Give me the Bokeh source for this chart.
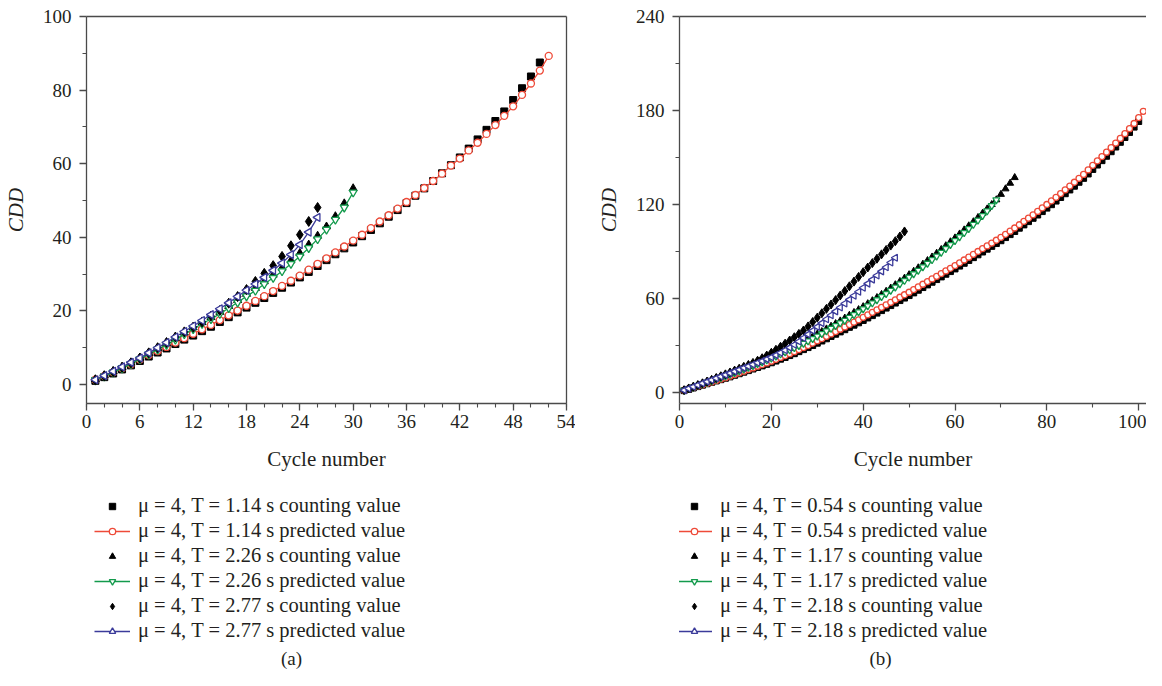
import numpy as np
from bokeh.plotting import figure
from bokeh.models import Legend, LegendItem, LinearAxis, FixedTicker, Range1d, Label
from bokeh.layouts import row, column
from bokeh.embed import file_html
from bokeh.resources import INLINE

# ---------------- panel (a) data ----------------
a_count_114 = [1.0, 2.0, 3.0, 4.1, 5.2, 6.4, 7.6, 8.7, 9.8, 11.0, 12.2, 13.3, 14.5, 15.7, 17.0, 18.3,
               19.6, 20.9, 22.2, 23.5, 24.9, 26.3, 27.7, 29.1, 30.6, 32.2, 33.8, 35.4, 37.0, 38.6,
               40.3, 42.0, 43.8, 45.6, 47.4, 49.3, 51.3, 53.3, 55.3, 57.4, 59.6, 61.7, 64.1, 66.6,
               69.2, 71.6, 74.2, 77.3, 80.5, 83.7, 87.5]
a_pred_114 = [1.3, 2.3, 3.3, 4.4, 5.5, 6.8, 8.0, 9.1, 10.2, 11.4, 12.6, 13.8, 15.0, 16.2, 17.5, 18.8,
              20.1, 21.4, 22.7, 24.0, 25.4, 26.8, 28.2, 29.6, 31.2, 32.8, 34.3, 35.9, 37.5, 39.1,
              40.7, 42.5, 44.3, 46.0, 47.8, 49.6, 51.5, 53.4, 55.3, 57.3, 59.5, 61.4, 63.6, 65.7,
              68.1, 70.5, 73.0, 75.6, 78.7, 81.8, 85.3, 89.3]
a_count_226 = [1.4, 2.5, 3.6, 4.7, 5.9, 7.2, 8.5, 9.9, 11.2, 12.6, 14.1, 15.5, 16.9, 18.3, 19.7, 21.3,
               22.9, 24.6, 26.2, 28.0, 29.8, 31.7, 33.7, 35.7, 38.0, 40.4, 42.9, 45.7, 49.2, 53.3]
a_pred_226 = [1.2, 2.2, 3.3, 4.4, 5.6, 6.9, 8.2, 9.5, 10.8, 12.2, 13.7, 15.1, 16.5, 17.8, 19.2, 20.8,
              22.3, 24.0, 25.5, 27.3, 29.0, 30.8, 32.8, 34.8, 37.1, 39.5, 42.1, 44.8, 48.1, 52.2]
a_count_277 = [1.2, 2.3, 3.5, 4.7, 5.9, 7.2, 8.6, 10.0, 11.4, 12.9, 14.3, 15.6, 17.0, 18.6, 20.1, 22.1,
               23.9, 25.8, 28.0, 30.2, 32.3, 34.8, 37.7, 40.7, 44.3, 48.1]
a_pred_277 = [1.3, 2.4, 3.6, 4.8, 6.0, 7.2, 8.6, 10.0, 11.4, 12.9, 14.4, 15.9, 17.4, 19.0, 20.6, 22.2,
              23.9, 25.6, 27.3, 29.1, 31.0, 33.0, 35.3, 38.0, 41.4, 45.4]
a_labels = ["μ = 4, T = 1.14 s counting value", "μ = 4, T = 1.14 s predicted value",
            "μ = 4, T = 2.26 s counting value", "μ = 4, T = 2.26 s predicted value",
            "μ = 4, T = 2.77 s counting value", "μ = 4, T = 2.77 s predicted value"]
a_xticks = [0, 6, 12, 18, 24, 30, 36, 42, 48, 54]
a_yticks = [0, 20, 40, 60, 80, 100]

# ---------------- panel (b) data ----------------
b_count_054 = [1.2, 2.0, 2.9, 3.8, 4.7, 5.6, 6.5, 7.4, 8.2, 9.1, 10.0, 11.0, 12.0, 13.0, 14.0, 15.0,
               16.0, 17.0, 18.0, 19.0, 20.1, 21.3, 22.4, 23.6, 24.8, 26.1, 27.4, 28.7, 30.0, 31.5,
               32.9, 34.3, 35.8, 37.2, 38.7, 40.1, 41.6, 43.0, 44.5, 46.0, 47.6, 49.1, 50.7, 52.3,
               53.9, 55.5, 57.1, 58.7, 60.3, 61.9, 63.6, 65.3, 67.0, 68.7, 70.4, 72.1, 73.8, 75.5,
               77.2, 78.9, 80.7, 82.5, 84.3, 86.1, 87.9, 89.7, 91.5, 93.3, 95.1, 96.9, 98.9, 100.8,
               102.8, 104.9, 107.0, 109.1, 111.2, 113.3, 115.5, 117.7, 119.9, 122.2, 124.5, 126.9,
               129.3, 131.7, 134.2, 136.7, 139.5, 142.4, 145.2, 148.0, 150.8, 153.7, 156.7, 159.7,
               162.8, 166.0, 169.4, 173.0]
b_pred_054 = [1.5, 2.3, 3.2, 4.1, 5.0, 5.9, 6.8, 7.7, 8.6, 9.5, 10.5, 11.5, 12.5, 13.6, 14.7, 15.7,
              16.8, 17.8, 18.9, 20.0, 21.2, 22.4, 23.6, 24.8, 26.1, 27.4, 28.7, 30.0, 31.5, 33.0,
              34.4, 35.9, 37.4, 38.9, 40.4, 41.9, 43.4, 44.9, 46.4, 48.0, 49.6, 51.2, 52.8, 54.4,
              56.0, 57.6, 59.2, 60.8, 62.4, 64.0, 65.7, 67.4, 69.1, 70.8, 72.5, 74.2, 75.9, 77.6,
              79.3, 81.0, 82.8, 84.6, 86.4, 88.2, 90.0, 91.8, 93.6, 95.4, 97.2, 99.0, 101.0, 103.0,
              105.0, 107.1, 109.2, 111.3, 113.4, 115.6, 117.8, 120.0, 122.3, 124.6, 127.0, 129.4,
              131.8, 134.2, 136.7, 139.2, 142.1, 145.0, 147.8, 150.6, 153.4, 156.3, 159.2, 162.2,
              165.2, 168.4, 171.7, 175.5, 179.5]
b_count_117 = [1.6, 2.6, 3.7, 4.7, 5.8, 6.8, 7.9, 8.9, 10.0, 11.0, 12.1, 13.2, 14.4, 15.5, 16.7, 17.9,
               19.1, 20.4, 21.6, 22.9, 24.2, 25.6, 26.9, 28.3, 29.7, 31.2, 32.7, 34.2, 35.7, 37.3,
               38.9, 40.6, 42.3, 44.0, 45.7, 47.5, 49.3, 51.1, 52.9, 54.8, 56.7, 58.6, 60.6, 62.6,
               64.6, 66.7, 68.8, 70.9, 73.0, 75.2, 77.4, 79.6, 81.9, 84.2, 86.5, 88.9, 91.3, 93.7,
               96.2, 98.7, 101.2, 103.8, 106.4, 109.0, 111.7, 114.4, 117.2, 120.0, 123.0, 126.5,
               130.0, 133.6, 137.2]
b_pred_117 = [1.5, 2.5, 3.5, 4.5, 5.5, 6.5, 7.5, 8.5, 9.5, 10.5, 11.6, 12.7, 13.8, 14.9, 16.0, 17.2,
              18.4, 19.6, 20.8, 22.0, 23.3, 24.6, 25.9, 27.2, 28.6, 30.0, 31.4, 32.9, 34.4, 36.0,
              37.6, 39.3, 41.0, 42.7, 44.4, 46.1, 47.9, 49.7, 51.5, 53.4, 55.3, 57.2, 59.2, 61.2,
              63.2, 65.2, 67.3, 69.4, 71.5, 73.6, 75.8, 78.0, 80.2, 82.5, 84.8, 87.1, 89.5, 91.9,
              94.4, 96.9, 99.4, 102.0, 104.6, 107.3, 110.0, 112.9, 115.9, 119.3, 123.0]
b_count_218 = [1.5, 2.6, 3.7, 4.8, 5.9, 7.0, 8.1, 9.3, 10.4, 11.6, 12.8, 14.0, 15.2, 16.4, 17.6, 18.9,
               20.3, 21.9, 23.6, 25.4, 27.3, 29.2, 31.2, 33.2, 35.3, 37.4, 39.6, 42.2, 45.0, 47.8,
               50.6, 53.4, 56.2, 59.0, 61.9, 64.8, 67.8, 70.8, 73.8, 76.8, 79.8, 82.6, 85.4, 88.2,
               91.0, 93.8, 96.6, 99.6, 102.8]
b_pred_218 = [1.5, 2.6, 3.7, 4.8, 5.9, 7.0, 8.0, 9.1, 10.2, 11.3, 12.4, 13.5, 14.6, 15.7, 16.8, 17.9,
              19.0, 20.1, 21.3, 22.5, 23.9, 25.4, 27.0, 28.7, 30.5, 32.6, 34.8, 37.1, 39.5, 41.9,
              44.3, 46.8, 49.3, 51.8, 54.3, 56.8, 59.3, 61.8, 64.3, 66.9, 69.5, 72.1, 74.7, 77.3,
              80.0, 83.0, 86.0]
b_labels = ["μ = 4, T = 0.54 s counting value", "μ = 4, T = 0.54 s predicted value",
            "μ = 4, T = 1.17 s counting value", "μ = 4, T = 1.17 s predicted value",
            "μ = 4, T = 2.18 s counting value", "μ = 4, T = 2.18 s predicted value"]
b_xticks = [0, 20, 40, 60, 80, 100]
b_yticks = [0, 60, 120, 180, 240]

RED = "#ee4a38"
GREEN = "#139a4c"
BLUE = "#3b3b9a"
AXIS = "#4a4a4a"
TXT = "#231f20"
FONT = "Liberation Serif"


def cyc(v):
    return list(range(1, len(v) + 1))


def frame_axis(p, loc):
    ax = LinearAxis(ticker=FixedTicker(ticks=[]), axis_line_color=AXIS, axis_line_width=1.3,
                    major_tick_line_color=None, minor_tick_line_color=None,
                    major_label_text_font_size="0px")
    p.add_layout(ax, loc)


def draw_series(p, series, ms):
    """Draw the six series; returns renderer groups in legend order."""
    (c1, p1, c2, p2, c3, p3) = series
    groups = []
    r = p.scatter(cyc(c1), c1, marker="square", size=ms, color="black")
    groups.append([r])
    l = p.line(cyc(p1), p1, line_color=RED, line_width=1.3)
    s = p.scatter(cyc(p1), p1, marker="circle", size=ms, line_color=RED, fill_color="white",
                  line_width=1.3)
    groups.append([l, s])
    r = p.scatter(cyc(c2), c2, marker="triangle", size=ms + 1, color="black")
    groups.append([r])
    l = p.line(cyc(p2), p2, line_color=GREEN, line_width=1.3)
    s = p.scatter(cyc(p2), p2, marker="inverted_triangle", size=ms + 1, line_color=GREEN,
                  fill_color="white", line_width=1.3)
    groups.append([l, s])
    r = p.scatter(cyc(c3), c3, marker="diamond", size=ms + 3, color="black")
    groups.append([r])
    l = p.line(cyc(p3), p3, line_color=BLUE, line_width=1.3)
    s = p.scatter(cyc(p3), p3, marker="triangle", angle=np.pi / 2, size=ms + 1, line_color=BLUE,
                  fill_color="white", line_width=1.3)
    groups.append([l, s])
    return groups


def panel(series, labels, x_end, y_start, y_end, xt, xminor, yt, yminor, caption, width,
          bl, br, ms, right_box, leg_x, cap_x):
    p = figure(width=width, height=478, x_range=Range1d(0, x_end), y_range=Range1d(y_start, y_end),
               output_backend="svg", toolbar_location=None, min_border_left=bl,
               min_border_right=br, min_border_top=16, min_border_bottom=75)
    p.grid.visible = False
    p.outline_line_color = None

    p.xaxis.ticker = FixedTicker(ticks=xt, minor_ticks=xminor)
    p.yaxis.ticker = FixedTicker(ticks=yt, minor_ticks=yminor)
    for ax in (p.xaxis[0], p.yaxis[0]):
        ax.axis_line_color = AXIS
        ax.axis_line_width = 1.3
        ax.major_tick_line_color = AXIS
        ax.major_tick_line_width = 1.3
        ax.minor_tick_line_color = AXIS
        ax.minor_tick_line_width = 1.1
        ax.major_tick_out = 7
        ax.major_tick_in = 0
        ax.minor_tick_out = 4
        ax.minor_tick_in = 0
        ax.major_label_text_font = FONT
        ax.major_label_text_font_size = "19px"
        ax.major_label_text_color = TXT
        ax.axis_label_text_font = FONT
        ax.axis_label_text_font_size = "21px"
        ax.axis_label_text_color = TXT
    p.xaxis.axis_label = "Cycle number"
    p.xaxis.axis_label_text_font_style = "normal"
    p.xaxis.major_label_standoff = 4
    p.xaxis.axis_label_standoff = 16
    p.yaxis.axis_label = "CDD"
    p.yaxis.axis_label_text_font_style = "italic"
    p.yaxis.major_label_standoff = 8
    p.yaxis.axis_label_standoff = 12

    frame_axis(p, "above")
    if right_box:
        frame_axis(p, "right")

    draw_series(p, series, ms)

    # legend + caption figure (its proxy renderers lie outside its own view)
    q = figure(width=width, height=192, x_range=Range1d(-10, -9), y_range=Range1d(-10, -9),
               output_backend="svg", toolbar_location=None, min_border=0)
    q.axis.visible = False
    q.grid.visible = False
    q.outline_line_color = None
    groups = draw_series(q, series, ms)
    items = [LegendItem(label=lab, renderers=g) for lab, g in zip(labels, groups)]
    leg = Legend(items=items, location=(leg_x, 27), orientation="vertical",
                 label_text_font=FONT, label_text_font_size="20.5px", label_text_color=TXT,
                 glyph_width=36, glyph_height=16, label_height=25, spacing=0,
                 label_standoff=8, padding=4, margin=0,
                 border_line_color=None, background_fill_alpha=0)
    q.add_layout(leg, "center")
    q.add_layout(Label(x=cap_x, y=12, x_units="screen", y_units="screen", text=caption,
                       text_font=FONT, text_font_size="19px", text_color=TXT,
                       text_align="center", text_baseline="middle"))
    return column(p, q)


pa = panel((a_count_114, a_pred_114, a_count_226, a_pred_226, a_count_277, a_pred_277), a_labels,
           54, -5.16, 100, a_xticks, list(range(0, 55, 2)), a_yticks, [10, 30, 50, 70, 90],
           "(a)", 575, 85, 9, 7, True, 8, 205)
pb = panel((b_count_054, b_pred_054, b_count_117, b_pred_117, b_count_218, b_pred_218), b_labels,
           101.7, -7, 240, b_xticks, [10, 30, 50, 70, 90], b_yticks, [30, 90, 150, 210],
           "(b)", 571, 104, 0, 6, False, -3, 201)

layout = row(pa, pb)
open("out.html", "w").write(file_html(layout, INLINE))
